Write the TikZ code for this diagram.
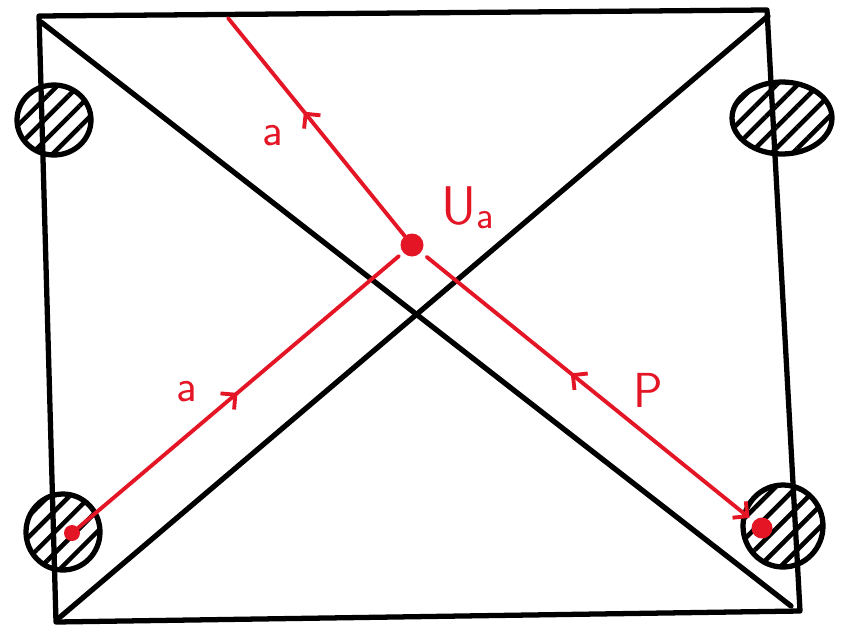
\documentclass[tikz,border=0pt]{standalone}
\usepackage{tikz}
\usetikzlibrary{patterns,patterns.meta}
\usetikzlibrary{arrows.meta}
\usetikzlibrary{decorations.markings}
\definecolor{penred}{RGB}{228,22,38}
\tikzset{
  frame/.style={line width=3pt, line join=round, line cap=round},
  blob/.style={line width=3pt,
    pattern={Lines[angle=45,distance=8.5pt,line width=2.6pt]}, pattern color=black},
  redline/.style={penred, line width=2.2pt, line cap=round},
  dot/.style={circle, fill=penred, inner sep=0pt, minimum size=#1},
  midarrow/.style={postaction={decorate},
    decoration={markings, mark=at position #1 with
      {\arrow[penred, line width=2.2pt]{Straight Barb[length=6pt,width=12pt]}}}},
  midarrowrev/.style={postaction={decorate},
    decoration={markings, mark=at position #1 with
      {\arrowreversed[penred, line width=2.2pt]{Straight Barb[length=6pt,width=12pt]}}}},
  lbl/.style={text=penred, inner sep=0pt, font=\sffamily\fontsize{26}{26}\selectfont}
}

\begin{document}
\begin{tikzpicture}[x=0.02cm, y=-0.02cm]
\useasboundingbox (0,0) rectangle (851,629);

% hatched blobs at the four corners
\draw[blob] (54,120) ellipse [x radius=0.74cm, y radius=0.7cm];
\draw[blob] (782,118) ellipse [x radius=1cm, y radius=0.72cm];
\draw[blob] (63,532) ellipse [x radius=0.74cm, y radius=0.76cm];
\draw[blob] (783,526) ellipse [x radius=0.8cm, y radius=0.82cm];

% the box and its diagonals
\draw[frame] (39,16) -- (767,10) -- (800,611) -- (56,622) -- cycle;
\draw[frame] (41,22) -- (791,606);
\draw[frame] (59,618) -- (768,16);

% red points
\node[dot=0.46cm] (Ua) at (412,245) {};
\node[dot=0.32cm] (pl) at (72,533) {};
\node[dot=0.42cm] (pr) at (762,528) {};
\coordinate (top) at (228,18);

% red paths
\draw[redline, midarrow=0.57] (Ua) -- (top);
\draw[redline, midarrow=0.49, shorten >=3pt] (pl) -- (Ua);
\draw[redline, midarrowrev=0.45, -{Straight Barb[length=6pt,width=12pt]},
  shorten <=4pt, shorten >=3pt] (Ua) -- (pr);

% labels
\node[lbl] (la) at (273,136) {a};
\node[lbl] (lb) at (187,392) {a};
\node[lbl, font=\sffamily\fontsize{28}{28}\selectfont] (lp) at (648,390) {P};
\node[lbl, font=\sffamily\fontsize{31}{31}\selectfont] (lu) at (468,208)
  {U\raisebox{-2pt}{\fontsize{22}{22}\selectfont a}};
\end{tikzpicture}
\end{document}
